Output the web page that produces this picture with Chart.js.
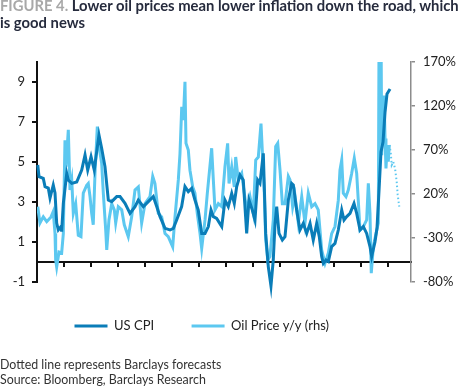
<!DOCTYPE html>
<html><head><meta charset="utf-8">
<script src="https://cdn.jsdelivr.net/npm/chart.js@4"></script>
<style>
html,body{margin:0;padding:0;background:#fff;}
#wrap{position:relative;width:458px;height:389px;overflow:hidden;font-family:Lato,"Open Sans",sans-serif;}
#c{position:absolute;left:0;top:0;}
#title{position:absolute;left:0;top:-3px;width:470px;font-weight:bold;font-size:14.8px;line-height:17px;color:#262b3d;white-space:nowrap;}
#title .fig{color:#a8a8a8;}
#note{position:absolute;left:0;top:357px;font-size:12.4px;line-height:15px;color:#333;}
</style></head>
<body><div id="wrap"><canvas id="c" width="458" height="389"></canvas>
<div id="title"><span class="fig">FIGURE 4.</span> Lower oil prices mean lower inflation down the road, which<br>is good news</div>
<div id="note">Dotted line represents Barclays forecasts<br>Source: Bloomberg, Barclays Research</div></div>
<script>
// ---- data (decimal year, value) ----
const cpiSeries = [[1984.08,4.85],[1984.22,4.27],[1984.68,4.18],[1984.87,3.77],[1985.22,3.7],[1985.41,3.2],[1985.76,3.85],[1985.95,3.45],[1986.13,1.95],[1986.31,1.6],[1986.6,1.77],[1986.67,1.52],[1986.85,2.93],[1987.22,4.43],[1987.39,4.1],[1987.76,3.93],[1988.3,4.0],[1988.84,4.6],[1989.2,5.35],[1989.49,4.6],[1989.85,5.27],[1990.2,4.6],[1990.39,5.27],[1990.71,6.35],[1991.0,5.68],[1991.36,4.77],[1991.72,3.1],[1992.09,3.02],[1992.63,3.27],[1992.99,3.27],[1993.53,2.93],[1994.07,2.43],[1994.61,2.77],[1994.97,3.1],[1995.51,2.77],[1996.05,3.02],[1996.59,3.27],[1996.96,2.77],[1997.32,2.27],[1997.86,1.68],[1998.4,1.6],[1998.76,1.68],[1999.12,2.1],[1999.66,2.77],[2000.02,3.77],[2000.38,3.52],[2000.75,3.68],[2001.1,3.1],[2001.46,2.6],[2001.83,1.43],[2002.19,1.43],[2002.55,1.77],[2002.84,2.6],[2003.09,2.27],[2003.45,2.18],[2004.0,1.77],[2004.35,3.1],[2004.71,2.77],[2005.08,3.43],[2005.36,2.93],[2005.62,3.77],[2005.98,4.35],[2006.33,4.1],[2006.7,1.43],[2006.95,3.1],[2007.31,2.6],[2007.6,2.1],[2007.89,4.1],[2008.14,3.93],[2008.5,5.43],[2008.76,1.43],[2009.04,-0.23],[2009.33,-1.2],[2009.58,0.1],[2009.77,1.93],[2009.95,2.77],[2010.2,1.43],[2010.56,1.1],[2010.85,1.27],[2011.21,3.1],[2011.57,3.93],[2011.75,3.85],[2012.11,2.6],[2012.47,1.6],[2012.83,1.93],[2013.2,1.43],[2013.56,1.93],[2013.91,1.1],[2014.28,1.93],[2014.56,1.27],[2014.82,0.27],[2015.0,-0.07],[2015.29,0.1],[2015.54,0.02],[2015.9,0.77],[2016.26,0.93],[2016.62,1.6],[2016.99,2.6],[2017.24,2.1],[2017.53,2.27],[2017.89,2.43],[2018.32,2.93],[2018.61,2.43],[2018.97,1.6],[2019.33,1.77],[2019.69,1.43],[2020.05,0.77],[2020.23,0.27],[2020.59,1.0],[2020.81,1.7],[2021.02,3.5],[2021.24,5.5],[2021.46,6.0],[2021.68,7.5],[2021.89,8.4],[2022.22,8.65]];

const oilSeries = [[1984.08,5.6],[1984.32,-13],[1984.68,-6],[1985.05,-11.5],[1985.52,-6],[1985.76,0],[1985.95,-25],[1986.02,-55],[1986.13,-63],[1986.38,-46],[1986.67,-47],[1986.85,-25],[1987.03,81],[1987.14,51],[1987.39,93],[1987.57,24.5],[1987.76,36],[1987.93,-2],[1988.19,9],[1988.47,-27],[1988.76,-28.5],[1989.01,21],[1989.38,30],[1989.55,32],[1989.74,17],[1989.92,-2],[1990.09,-15],[1990.28,43.5],[1990.53,96.5],[1990.71,74],[1991.0,55],[1991.18,21],[1991.44,-21],[1991.55,-43.6],[1991.79,-9.5],[1992.09,9],[1992.37,2],[1992.52,-13],[1992.8,5.6],[1993.17,2],[1993.45,-15],[1993.88,-28.5],[1994.25,-6],[1994.61,24.5],[1994.97,28],[1995.33,-13],[1995.69,9],[1996.23,17],[1996.53,40],[1996.77,32],[1997.13,-2],[1997.5,-6],[1997.86,-25],[1998.21,-28.5],[1998.69,-40],[1998.94,-6],[1999.3,36],[1999.48,66],[1999.67,119],[1999.84,104],[2000.02,147.6],[2000.13,77.6],[2000.38,70],[2000.56,47],[2000.86,28],[2001.1,21],[2001.35,-2],[2001.65,-25],[2001.83,-42],[2002.19,-9.5],[2002.44,21],[2002.91,72],[2003.09,36],[2003.27,2],[2003.63,9],[2004.0,5.6],[2004.35,51],[2004.64,77.6],[2004.79,32],[2005.08,51],[2005.36,28],[2005.51,62],[2005.79,36],[2006.16,43.5],[2006.44,21],[2006.7,2],[2007.06,17],[2007.42,-2],[2007.68,58.6],[2007.96,62],[2008.25,100],[2008.39,70],[2008.61,21],[2008.76,-32],[2008.98,-55],[2009.22,-51],[2009.58,-9.5],[2009.84,74],[2010.06,77.6],[2010.31,47],[2010.56,9],[2010.85,9],[2011.21,40],[2011.39,36],[2011.68,5],[2011.93,18],[2012.29,-13],[2012.66,17],[2013.01,-13],[2013.37,21],[2013.74,5.6],[2014.1,9],[2014.45,2],[2014.82,-43.6],[2015.18,-58.8],[2015.54,-47],[2015.9,-25],[2016.26,-17],[2016.62,13],[2016.8,47],[2016.99,58.6],[2017.16,21],[2017.45,17],[2017.7,24.5],[2018.07,43.5],[2018.35,60.6],[2018.61,43.5],[2018.78,13],[2018.97,-21],[2019.33,-17],[2019.69,-9.5],[2019.87,32],[2020.05,-2],[2020.19,-70],[2020.41,-40],[2020.7,-25],[2020.95,-13],[2021.06,280],[2021.21,280],[2021.32,64],[2021.43,102],[2021.57,132],[2021.68,83],[2021.78,49],[2021.92,75.7],[2022.03,56.7],[2022.14,75.7]];

const oilForecast = [[2022.14,75.7],[2022.29,68],[2022.4,53],[2022.57,56.7],[2022.76,49],[2022.94,34],[2023.05,19],[2023.22,5.6]];

const xTickPositions = [1984,1986.92,1989.85,1992.77,1995.69,1998.62,2001.54,2004.46,2007.38,2010.31,2013.23,2016.15,2019.08,2022];
const xTickLabels = ['84','87','90','92','95','98','01','04','07','10','13','16','19','22'];
const leftTicks = [-1,1,3,5,7,9];
const rightTicks = [-80,-30,20,70,120,170];

const CPI_COLOR = '#0a7db8';
const OIL_COLOR = '#5cc8f0';
const FONT = {family:'Lato', size:13};

const toXY = s => s.map(p => ({x:p[0], y:p[1]}));
const setTicks = arr => s => { s.ticks = arr.map(v => ({value:v})); };

new Chart(document.getElementById('c'), {
  type:'line',
  data:{datasets:[
    {label:'US CPI', data:toXY(cpiSeries), yAxisID:'y', xAxisID:'x', borderColor:CPI_COLOR, backgroundColor:CPI_COLOR, borderWidth:3, pointRadius:0, clip:false},
    {label:'Oil Price y/y (rhs)', data:toXY(oilSeries), yAxisID:'y2', xAxisID:'x', borderColor:OIL_COLOR, backgroundColor:OIL_COLOR, borderWidth:3, pointRadius:0},
    {label:'forecast', data:toXY(oilForecast), yAxisID:'y2', xAxisID:'x', borderColor:OIL_COLOR, backgroundColor:OIL_COLOR, borderWidth:2, borderDash:[1.5,2.5], pointRadius:0}
  ]},
  options:{
    responsive:false, animation:false,
    layout:{padding:{left:0, right:0, top:62, bottom:46.5}},
    plugins:{
      tooltip:{enabled:false},
      legend:{position:'bottom', align:'start', fullSize:false,
        labels:{usePointStyle:true, pointStyle:'line', pointStyleWidth:33, padding:37.5, color:'#222', font:FONT,
          filter:(item) => item.datasetIndex < 2}}
    },
    scales:{
      x:{type:'linear', position:'bottom', min:1984, max:2024.49,
        border:{display:false}, grid:{display:false},
        ticks:{autoSkip:false, maxRotation:0, padding:12, color:'#222', font:FONT, callback:(v,i)=>xTickLabels[i]},
        afterBuildTicks:setTicks(xTickPositions), afterFit:s=>{s.height=0;}},
      x0:{type:'linear', axis:'x', position:{y:0}, min:1984, max:2024.49,
        ticks:{display:false},
        grid:{drawOnChartArea:false, drawTicks:true, tickLength:4, color:'#111', lineWidth:2},
        border:{display:true, color:'#111', width:2},
        afterBuildTicks:setTicks(xTickPositions)},
      y:{type:'linear', position:'left', min:-1, max:10,
        grid:{drawOnChartArea:false, drawTicks:true, tickLength:5, color:'#111', lineWidth:2},
        border:{display:true, color:'#111', width:2},
        ticks:{padding:7, color:'#222', font:FONT},
        afterBuildTicks:setTicks(leftTicks), afterFit:s=>{s.width=37;}},
      y2:{type:'linear', position:'right', min:-80, max:170,
        grid:{drawOnChartArea:false, drawTicks:true, tickLength:4, color:'#8c8c8c', lineWidth:1.5},
        border:{display:true, color:'#8c8c8c', width:1.5},
        ticks:{padding:8, color:'#222', font:FONT, callback:v=>v+'%'},
        afterBuildTicks:setTicks(rightTicks), afterFit:s=>{s.width=47;}}
    }
  }
});
</script>
</body></html>
